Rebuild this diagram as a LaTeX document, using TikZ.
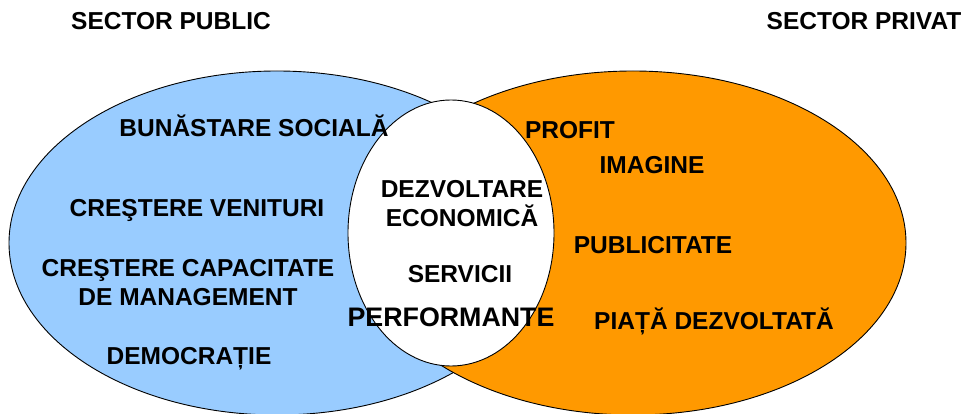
\documentclass[tikz,border=0pt]{standalone}
\usepackage{fontspec}
\setmainfont{Liberation Sans}
\usepackage{tikz}
\usetikzlibrary{
  positioning,
  shapes.geometric
}
\definecolor{publicblue}{HTML}{99CCFF}
\definecolor{privateorange}{HTML}{FF9900}

\begin{document}
\begin{tikzpicture}[x=1pt,y=-1pt,
  sector/.style={ellipse,draw=black,line width=0.9pt,inner sep=0pt},
  word/.style={font=\bfseries\fontsize{24.5}{29}\selectfont,align=center,inner sep=0pt}]
  \useasboundingbox (0,0) rectangle (968,414);
  % 两个扇区与交集
  \node[sector,fill=publicblue,minimum width=536pt,minimum height=344pt] (public) at (277,243) {};
  \node[sector,fill=privateorange,minimum width=546pt,minimum height=344pt] (private) at (633,243) {};
  \node[sector,fill=white,minimum width=206pt,minimum height=266pt] (common) at (451,233) {};
  % 标题
  \node[word,anchor=base] (hpublic) at (171,30) {SECTOR PUBLIC};
  \node[word,anchor=base] (hprivate) at (864,30) {SECTOR PRIVAT};
  % 公共部门
  \node[word,anchor=base] (welfare) at (254,137) {BUNĂSTARE SOCIALĂ};
  \node[word,anchor=base] (income) at (197,216) {CREŞTERE VENITURI};
  \node[word] (capacity) at (188,283) {CREŞTERE CAPACITATE\\DE MANAGEMENT};
  \node[word,anchor=base] (democracy) at (189,364) {DEMOCRAȚIE};
  % 交集
  \node[word] (growth) at (462,204) {DEZVOLTARE\\ECONOMICĂ};
  \node[word,anchor=base] (services) at (460,282) {SERVICII};
  \node[word,anchor=base,font=\bfseries\fontsize{26.8}{30}\selectfont] (perform) at (451,326) {PERFORMANTE};
  % 私营部门
  \node[word,anchor=base] (profit) at (570,139) {PROFIT};
  \node[word,anchor=base] (image) at (652,174) {IMAGINE};
  \node[word,anchor=base] (ads) at (653,253) {PUBLICITATE};
  \node[word,anchor=base] (market) at (714,329) {PIAȚĂ DEZVOLTATĂ};
\end{tikzpicture}
\end{document}
